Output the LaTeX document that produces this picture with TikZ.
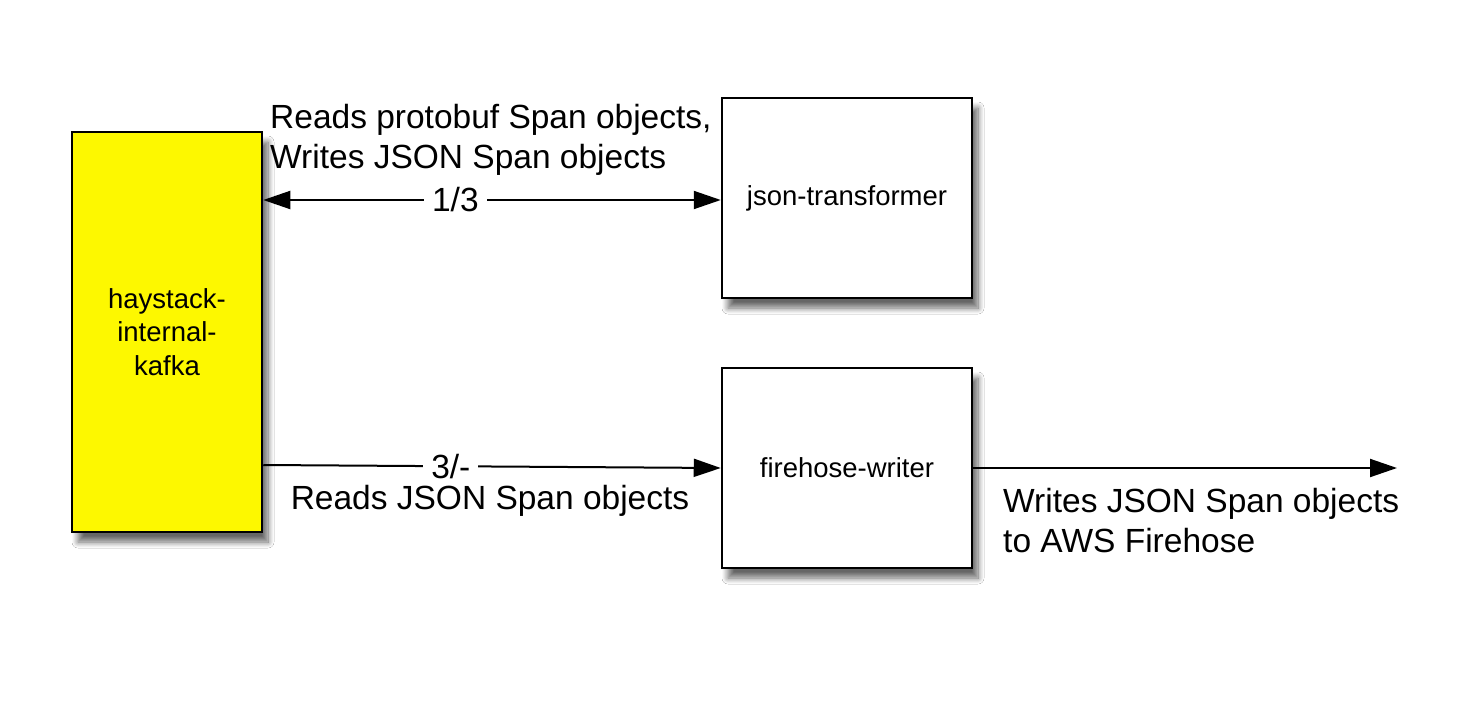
\documentclass[tikz,border=0pt]{standalone}
\usepackage{fontspec}
\setmainfont{Liberation Sans}
\usetikzlibrary{arrows.meta,shadows.blur}
\definecolor{kafkayellow}{RGB}{253,248,0}
\begin{document}
\begin{tikzpicture}[x=1pt,y=-1pt,
  box/.style={draw=black,line width=2.5pt,minimum width=#1,inner sep=0pt,
    blur shadow={shadow xshift=6pt,shadow yshift=-10pt,shadow blur radius=6pt,shadow blur steps=10,shadow opacity=60}},
  box/.default=250pt,
  tip/.style={Triangle[length=27pt,width=18pt]},
  conn/.style={line width=2pt,-{Triangle[length=27pt,width=18pt]}},
  lbl/.style={font=\fontsize{33.5}{40}\selectfont,inner sep=0pt},
  mid/.style={font=\fontsize{33.5}{40}\selectfont,fill=white,inner xsep=8pt,inner ysep=2pt},
  boxtxt/.style={font=\fontsize{27.5}{33.5}\selectfont,align=center}]
\useasboundingbox[fill=white] (0,0) rectangle (1457,717);
\node[box=190pt,minimum height=400pt,fill=kafkayellow] (kafka) at (167,332) {};
\node[boxtxt] at (kafka.center) {haystack-\\internal-\\kafka};
\node[box,minimum height=200pt,fill=white] (json) at (847,198) {};
\node[boxtxt] at (json.center) {json-transformer};
\node[box,minimum height=200pt,fill=white] (fire) at (847,468) {};
\node[boxtxt] at (fire.center) {firehose-writer};
\coordinate (k1) at (kafka.east |- 0,200);
\coordinate (k2) at (kafka.east |- 0,465);
\coordinate (out) at (1397,468);
\draw[conn,{Triangle[length=27pt,width=18pt]}-{Triangle[length=27pt,width=18pt]}] (k1) -- (json.west |- k1) node[mid,pos=0.42] (l13) {1/3};
\draw[conn] (k2) -- (fire.west) node[mid,pos=0.41] (l3) {3/-};
\draw[conn] (fire.east) -- (out);
\node[lbl,anchor=west,align=left] (t1) at (270,140) {Reads protobuf Span objects,\\Writes JSON Span objects};
\node[lbl] (t2) at (490,501) {Reads JSON Span objects};
\node[lbl,anchor=west,align=left] (t3) at (1003,521) {Writes JSON Span objects\\to AWS Firehose};
\end{tikzpicture}
\end{document}
